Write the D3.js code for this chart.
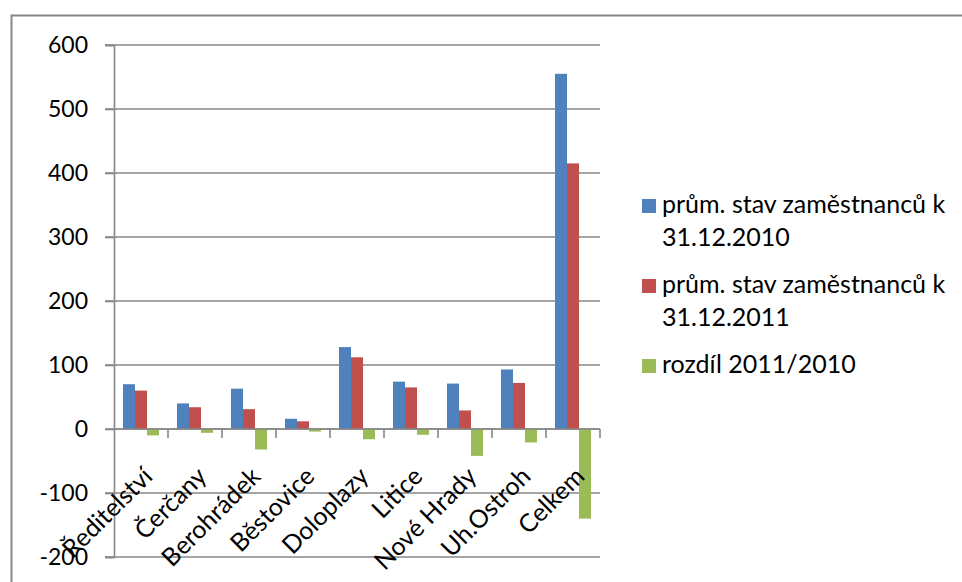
<!DOCTYPE html>
<html>
<head>
<meta charset="utf-8">
<script src="https://cdn.jsdelivr.net/npm/d3@7"></script>
<style>
  body { margin: 0; background: #fff; }
  svg text { font-family: Lato, "Open Sans", sans-serif; fill: #000; }
</style>
</head>
<body>
<svg id="chart" width="962" height="582"></svg>
<script>
// data
var categories = ["Ředitelství", "Čerčany", "Berohrádek", "Běstovice", "Doloplazy", "Litice", "Nové Hrady", "Uh.Ostroh", "Celkem"];
var stav2010 = [70, 40, 63, 16, 128, 74, 71, 93, 555];
var stav2011 = [60, 34, 31, 12, 112, 65, 29, 72, 415];
var rozdil = [-10, -6, -32, -4, -16, -9, -42, -21, -140];
var seriesLabels = [
  ["prům. stav zaměstnanců k", "31.12.2010"],
  ["prům. stav zaměstnanců k", "31.12.2011"],
  ["rozdíl 2011/2010"]
];
var yTicks = [-200, -100, 0, 100, 200, 300, 400, 500, 600];
var colors = ["#4F81BD", "#C0504D", "#9BBB59"];

var series = [stav2010, stav2011, rozdil];
var rows = categories.map(function(c, i) {
  return { name: c, values: series.map(function(s) { return s[i]; }) };
});

var svg = d3.select("#chart");
var grey = "#878787";

// outer chart border (runs off the bottom / right)
svg.append("path")
  .attr("d", "M11.5,600 V15.5 H970")
  .attr("fill", "none")
  .attr("stroke", grey)
  .attr("stroke-width", 2);

var x0 = d3.scaleBand().domain(categories).range([114, 600]).paddingInner(1/3).paddingOuter(1/6);
var x1 = d3.scaleBand().domain([0, 1, 2]).range([0, x0.bandwidth()]);
var y = d3.scaleLinear().domain([-200, 600]).range([557, 45]);

// gridlines
svg.append("g")
  .selectAll("line")
  .data(yTicks)
  .enter().append("line")
  .attr("x1", 105).attr("x2", 600)
  .attr("y1", function(d) { return y(d); })
  .attr("y2", function(d) { return y(d); })
  .attr("stroke", grey)
  .attr("stroke-width", 1.6);

// y axis
var yAxis = svg.append("g")
  .attr("transform", "translate(114,0)")
  .call(d3.axisLeft(y).tickValues(yTicks).tickSize(9).tickPadding(17).tickFormat(function(d) { return String(d); }));
yAxis.select(".domain").attr("stroke", grey).attr("stroke-width", 1.6);
yAxis.selectAll(".tick line").attr("stroke", grey).attr("stroke-width", 1.6);
yAxis.selectAll("text")
  .style("font-size", "23px")
  .attr("fill", "#000")
  .style("font-family", "Lato, sans-serif");

// bars
var groups = svg.append("g")
  .selectAll("g")
  .data(rows)
  .enter().append("g")
  .attr("transform", function(d) { return "translate(" + x0(d.name) + ",0)"; });

groups.selectAll("rect")
  .data(function(d) { return d.values; })
  .enter().append("rect")
  .attr("x", function(d, i) { return x1(i); })
  .attr("width", x1.bandwidth())
  .attr("y", function(d) { return y(Math.max(0, d)); })
  .attr("height", function(d) { return Math.abs(y(d) - y(0)); })
  .attr("fill", function(d, i) { return colors[i]; });

// x axis line at zero with ticks between categories
var boundaries = categories.map(function(c) { return x0(c) + x0.bandwidth() + x0.step() * x0.paddingInner() / 2; });
svg.append("line")
  .attr("x1", 114).attr("x2", 600)
  .attr("y1", y(0)).attr("y2", y(0))
  .attr("stroke", grey).attr("stroke-width", 1.6);
svg.append("g")
  .selectAll("line")
  .data(boundaries)
  .enter().append("line")
  .attr("x1", function(d) { return d; })
  .attr("x2", function(d) { return d; })
  .attr("y1", y(0)).attr("y2", y(0) + 9)
  .attr("stroke", grey).attr("stroke-width", 1.6);

// rotated category labels
svg.append("g")
  .selectAll("text")
  .data(categories)
  .enter().append("text")
  .attr("text-anchor", "end")
  .attr("transform", function(d) {
    return "translate(" + (x0(d) + x0.bandwidth() / 2 + 13) + "," + 478 + ") rotate(-45)";
  })
  .style("font-size", "25px")
  .text(function(d) { return d; });

// legend
var legend = svg.append("g")
  .selectAll("g")
  .data(seriesLabels)
  .enter().append("g")
  .attr("transform", function(d, i) { return "translate(642," + (213 + i * 80) + ")"; });

legend.append("rect")
  .attr("x", 0).attr("y", -14)
  .attr("width", 14).attr("height", 14)
  .attr("fill", function(d, i) { return colors[i]; });

legend.append("text")
  .style("font-size", "25px")
  .selectAll("tspan")
  .data(function(d) { return d; })
  .enter().append("tspan")
  .attr("x", 20)
  .attr("y", function(d, i) { return i * 33; })
  .text(function(d) { return d; });
</script>
</body>
</html>
